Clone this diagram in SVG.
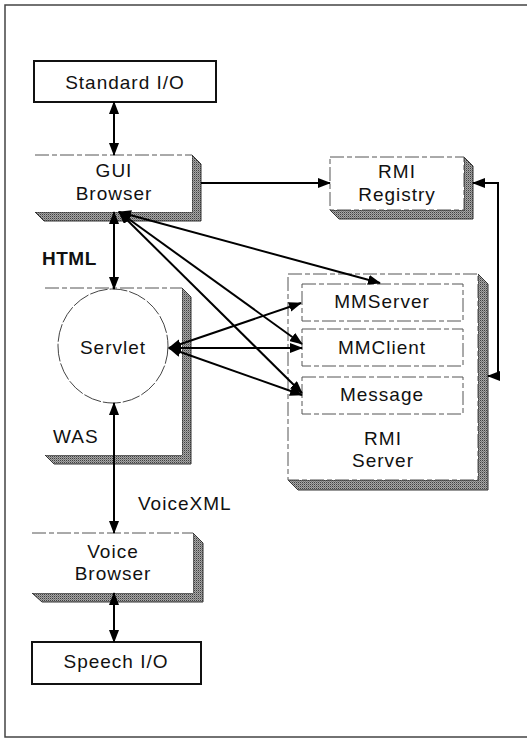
<svg xmlns="http://www.w3.org/2000/svg" width="527" height="739" viewBox="0 0 527 739">
  <style>
    .lbl { font-family: "Liberation Sans", Arial, sans-serif; font-size: 19px; letter-spacing: 1px; fill: #111; text-anchor: middle; }
    .tag { font-family: "Liberation Sans", Arial, sans-serif; font-size: 19px; letter-spacing: 1px; fill: #111; }
    .bold { font-weight: bold; letter-spacing: 0.5px; }
    .plain { fill: #fff; stroke: #111; stroke-width: 2; }
    .face { fill: #fff; stroke: #555; stroke-width: 1; stroke-dasharray: 14 3 5 3; }
    .edge { fill: none; stroke: #555; stroke-width: 1; stroke-dasharray: 14 3 5 3; }
    .shade { fill: url(#stipple); stroke: #333; stroke-width: 1; }
    .frame { fill: none; stroke: #444; stroke-width: 1.5; }
    .conn { fill: none; stroke: #000; stroke-width: 2; }
  </style>
  <defs>
    <pattern id="stipple" width="2" height="2" patternUnits="userSpaceOnUse">
      <rect width="2" height="2" fill="#a6a6a6"/>
      <rect width="1" height="1" fill="#404040"/>
      <rect x="1" y="1" width="1" height="1" fill="#7a7a7a"/>
    </pattern>
    <marker id="head" viewBox="0 0 13 10" refX="12" refY="5" markerWidth="13" markerHeight="10" markerUnits="userSpaceOnUse" orient="auto-start-reverse">
      <path d="M0,0 L13,5 L0,10 Z" fill="#000"/>
    </marker>
  </defs>

  <!-- page frame (open on the right) -->
  <path class="frame" d="M527,5 H5 V737 H527"/>

  <g id="standard-io">
    <rect class="plain" x="34" y="61" width="182" height="41"/>
    <text class="lbl" x="125" y="89">Standard I/O</text>
  </g>

  <g id="gui-browser">
    <path class="shade" d="M192,155 L201,164 V221 H44 L35,212 H192 Z"/>
    <rect x="35" y="155" width="157" height="57" fill="#fff"/>
    <path class="edge" d="M35,155 H192"/>
    <text class="lbl" x="114" y="177">GUI</text>
    <text class="lbl" x="114" y="200">Browser</text>
  </g>

  <g id="rmi-registry">
    <path class="shade" d="M464,157 L473,166 V219 H339 L330,210 H464 Z"/>
    <rect class="face" x="330" y="157" width="134" height="53"/>
    <text class="lbl" x="397" y="178">RMI</text>
    <text class="lbl" x="397" y="201">Registry</text>
  </g>

  <g id="was">
    <path class="shade" d="M182,288 L191,297 V464 H54 L45,455 H182 Z"/>
    <rect x="45" y="288" width="137" height="167" fill="#fff"/>
    <path class="edge" d="M45,288 H182"/>
    <text class="tag" x="53" y="443">WAS</text>
  </g>

  <g id="servlet">
    <ellipse cx="113" cy="346" rx="55" ry="57" fill="#fff" stroke="#444" stroke-width="1" stroke-dasharray="18 2"/>
    <text class="lbl" x="113" y="354">Servlet</text>
  </g>

  <g id="rmi-server">
    <path class="shade" d="M478,274 L488,284 V490 H298 L288,480 H478 Z"/>
    <rect class="face" x="288" y="274" width="190" height="206"/>
    <text class="lbl" x="383" y="445">RMI</text>
    <text class="lbl" x="383" y="467">Server</text>
  </g>

  <g id="mmserver">
    <rect class="face" x="302" y="284" width="161" height="37"/>
    <text class="lbl" x="382" y="308">MMServer</text>
  </g>

  <g id="mmclient">
    <rect class="face" x="302" y="329" width="161" height="37"/>
    <text class="lbl" x="382" y="354">MMClient</text>
  </g>

  <g id="message">
    <rect class="face" x="302" y="377" width="161" height="37"/>
    <text class="lbl" x="382" y="401">Message</text>
  </g>

  <g id="voice-browser">
    <path class="shade" d="M193,533 L203,543 V602 H42 L32,593 H193 Z"/>
    <rect x="32" y="533" width="161" height="60" fill="#fff"/>
    <path class="edge" d="M32,533 H193"/>
    <text class="lbl" x="113" y="558">Voice</text>
    <text class="lbl" x="113" y="580">Browser</text>
  </g>

  <g id="speech-io">
    <rect class="plain" x="32" y="642" width="169" height="42"/>
    <text class="lbl" x="116" y="668">Speech I/O</text>
  </g>

  <!-- protocol labels -->
  <text class="tag bold" x="42" y="265">HTML</text>
  <text class="tag" x="138" y="510">VoiceXML</text>

  <g id="connectors">
    <line class="conn" x1="114" y1="102" x2="114" y2="155" marker-start="url(#head)" marker-end="url(#head)"/>
    <line class="conn" x1="201" y1="183" x2="330" y2="183" marker-end="url(#head)"/>
    <path class="conn" d="M473,183 H498 V376 H488" marker-start="url(#head)" marker-end="url(#head)"/>
    <line class="conn" x1="114" y1="212" x2="114" y2="289" marker-start="url(#head)" marker-end="url(#head)"/>
    <line class="conn" x1="114" y1="403" x2="114" y2="533" marker-start="url(#head)" marker-end="url(#head)"/>
    <line class="conn" x1="114" y1="593" x2="114" y2="642" marker-start="url(#head)" marker-end="url(#head)"/>
    <line class="conn" x1="119" y1="212" x2="380" y2="283" marker-start="url(#head)" marker-end="url(#head)"/>
    <line class="conn" x1="119" y1="212" x2="302" y2="344" marker-start="url(#head)" marker-end="url(#head)"/>
    <line class="conn" x1="119" y1="212" x2="302" y2="393" marker-start="url(#head)" marker-end="url(#head)"/>
    <line class="conn" x1="169" y1="348" x2="301" y2="303" marker-start="url(#head)" marker-end="url(#head)"/>
    <line class="conn" x1="169" y1="348" x2="302" y2="348" marker-start="url(#head)" marker-end="url(#head)"/>
    <line class="conn" x1="169" y1="348" x2="302" y2="395" marker-start="url(#head)" marker-end="url(#head)"/>
  </g>
</svg>
